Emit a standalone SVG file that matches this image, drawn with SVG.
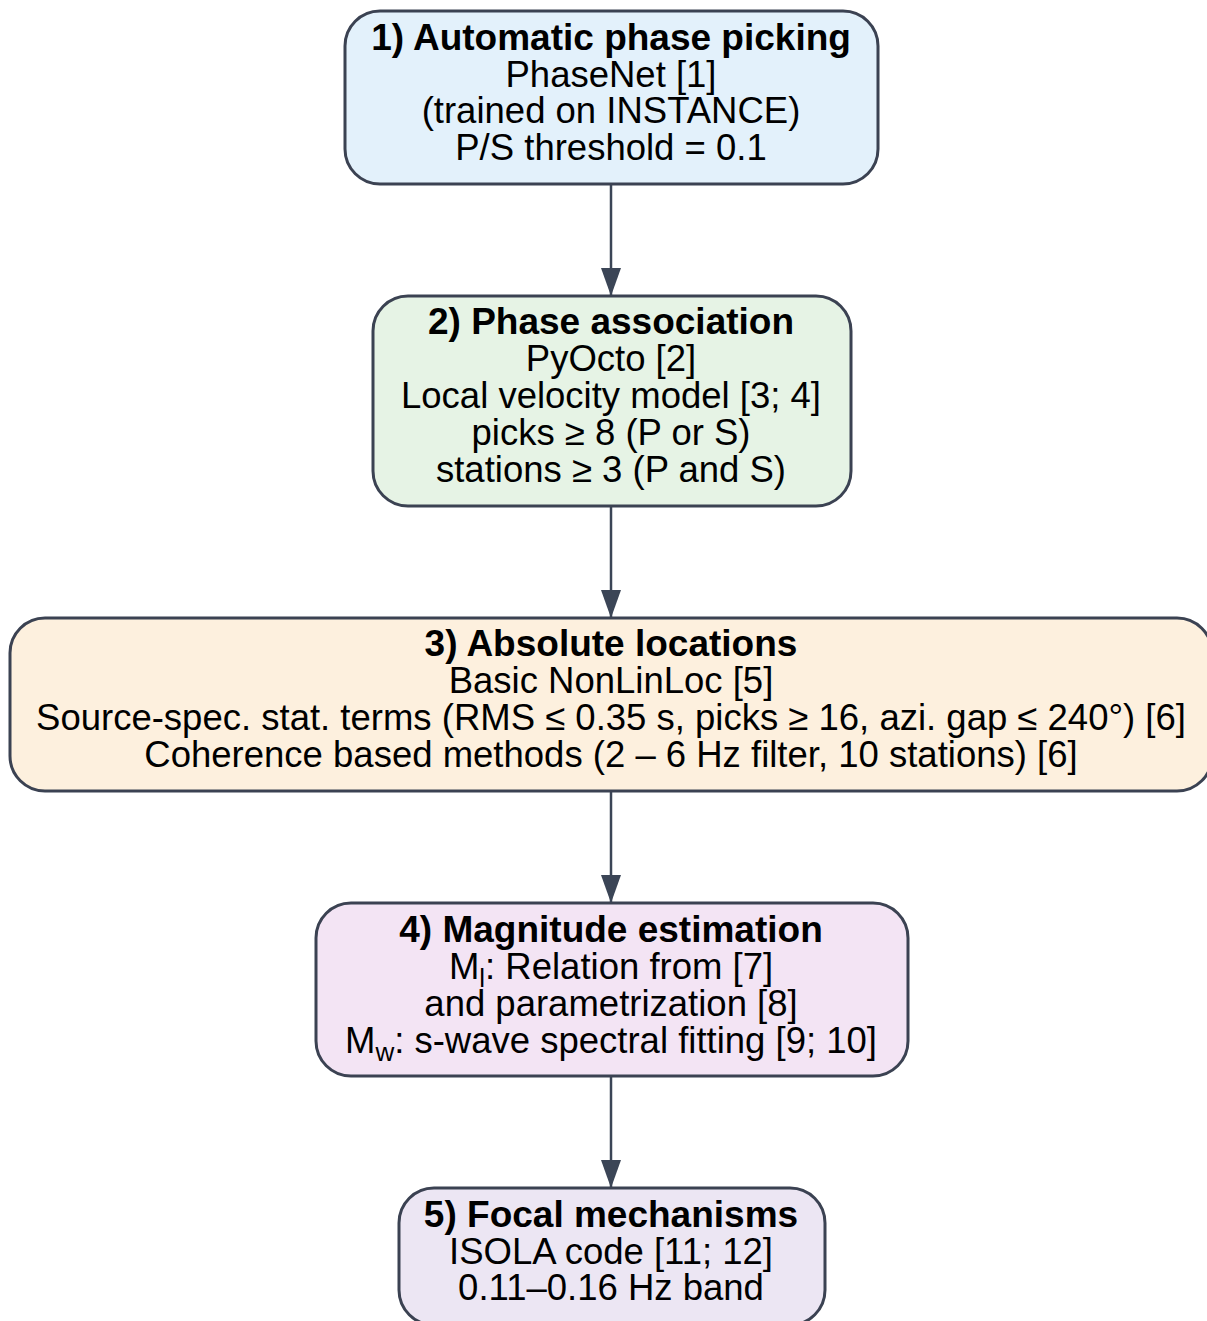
<svg xmlns="http://www.w3.org/2000/svg" width="1207" height="1321" viewBox="0 0 1207 1321">
<style>
.box{stroke:#3b4252;stroke-width:3}
.t{font-family:"Liberation Sans",Arial,sans-serif;font-size:36.5px;fill:#000;text-anchor:middle}
.b{font-weight:bold;font-size:37px}
.sub{font-size:26px}
.edge{stroke:#3b4556;stroke-width:2.5;fill:none}
</style>
<defs>
<marker id="ah" markerUnits="userSpaceOnUse" markerWidth="28" markerHeight="20" refX="28" refY="10" orient="auto" viewBox="0 0 28 20">
<path d="M0,0 L28,10 L0,20 z" fill="#3b4556"/>
</marker>
</defs>
<g id="connectors">
<line class="edge" x1="611" y1="184" x2="611" y2="296" marker-end="url(#ah)"/>
<line class="edge" x1="611" y1="506" x2="611" y2="618" marker-end="url(#ah)"/>
<line class="edge" x1="611" y1="791" x2="611" y2="903" marker-end="url(#ah)"/>
<line class="edge" x1="611" y1="1076" x2="611" y2="1188" marker-end="url(#ah)"/>
</g>
<g id="node1">
<rect class="box" x="345" y="11" width="533" height="173" rx="35" fill="#e3f1fb"/>
<text class="t b" x="611" y="50">1) Automatic phase picking</text>
<text class="t" x="611" y="87">PhaseNet [1]</text>
<text class="t" x="611" y="123">(trained on INSTANCE)</text>
<text class="t" x="611" y="160">P/S threshold = 0.1</text>
</g>
<g id="node2">
<rect class="box" x="373" y="296" width="478" height="210" rx="35" fill="#e6f3e5"/>
<text class="t b" x="611" y="334">2) Phase association</text>
<text class="t" x="611" y="371">PyOcto [2]</text>
<text class="t" x="611" y="408">Local velocity model [3; 4]</text>
<text class="t" x="611" y="445">picks ≥ 8 (P or S)</text>
<text class="t" x="611" y="482">stations ≥ 3 (P and S)</text>
</g>
<g id="node3">
<rect class="box" x="10" y="618" width="1202" height="173" rx="35" fill="#fdf0de"/>
<text class="t b" x="611" y="656">3) Absolute locations</text>
<text class="t" x="611" y="693">Basic NonLinLoc [5]</text>
<text class="t" x="611" y="730">Source-spec. stat. terms (RMS ≤ 0.35 s, picks ≥ 16, azi. gap ≤ 240°) [6]</text>
<text class="t" x="611" y="767">Coherence based methods (2 – 6 Hz filter, 10 stations) [6]</text>
</g>
<g id="node4">
<rect class="box" x="316" y="903" width="592" height="173" rx="35" fill="#f3e4f4"/>
<text class="t b" x="611" y="942">4) Magnitude estimation</text>
<text class="t" x="611" y="979">M<tspan class="sub" dy="8">l</tspan><tspan dy="-8">: Relation from [7]</tspan></text>
<text class="t" x="611" y="1016">and parametrization [8]</text>
<text class="t" x="611" y="1053">M<tspan class="sub" dy="8">w</tspan><tspan dy="-8">: s-wave spectral fitting [9; 10]</tspan></text>
</g>
<g id="node5">
<rect class="box" x="399" y="1188" width="426" height="137" rx="35" fill="#ece6f3"/>
<text class="t b" x="611" y="1227">5) Focal mechanisms</text>
<text class="t" x="611" y="1264">ISOLA code [11; 12]</text>
<text class="t" x="611" y="1300">0.11–0.16 Hz band</text>
</g>
</svg>
